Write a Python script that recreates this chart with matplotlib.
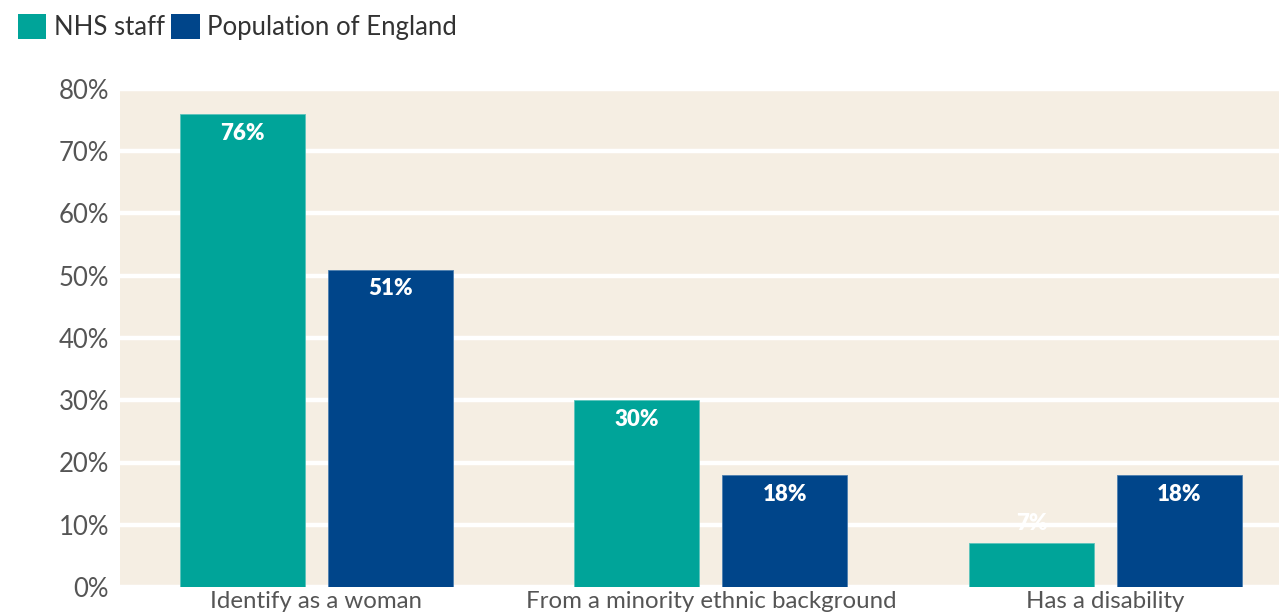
import matplotlib
matplotlib.use('agg')
import matplotlib.pyplot as plt
from matplotlib.patches import Patch
from matplotlib.ticker import FuncFormatter
import numpy as np

# Data
categories = ["Identify as a woman", "From a minority ethnic background", "Has a disability"]
nhs_staff = [76, 30, 7]
population = [51, 18, 18]
series_names = ["NHS staff", "Population of England"]

teal = '#00A499'
navy = '#00458A'
bg = '#F5EEE3'
grey = '#555555'

plt.rcParams['font.family'] = ['Lato', 'DejaVu Sans']

fig = plt.figure(figsize=(12.79, 6.16), dpi=100)
ax = fig.add_axes([120/1279, 29/616, 1159/1279, 498/616])
ax.set_facecolor(bg)

x = np.arange(len(categories))
w = 0.317
off = 0.1876

bars1 = ax.bar(x - off, nhs_staff, w, color=teal, edgecolor='#5cc4bc', linewidth=0.6, zorder=3)
bars2 = ax.bar(x + off, population, w, color=navy, edgecolor='#4d7fb0', linewidth=0.6, zorder=3)

# value labels: inside the top of the bar, above it when the bar is short
for bars in (bars1, bars2):
    for b in bars:
        v = b.get_height()
        dy = -14 if v > 10 else 14
        ax.annotate(f"{v:.0f}%", (b.get_x() + b.get_width()/2, v),
                    xytext=(0, dy), textcoords='offset points',
                    ha='center', va='center', color='white',
                    fontsize=16, fontweight='heavy', zorder=4)

ax.set_xlim(-0.498, -0.498 + 1159/394.5)
ax.set_ylim(0, 80)
ax.set_yticks(range(0, 81, 10))
ax.yaxis.set_major_formatter(FuncFormatter(lambda v, p: f"{v:.0f}%"))
ax.grid(axis='y', color='white', linewidth=3.2, zorder=1)
ax.set_axisbelow(True)

ax.set_xticks(x)
ax.set_xticklabels(categories)
ax.tick_params(axis='both', length=0, labelcolor=grey)
ax.tick_params(axis='x', pad=3, labelsize=17.3)
ax.tick_params(axis='y', pad=8, labelsize=18.5)
for s in ax.spines.values():
    s.set_visible(False)

handles = [Patch(facecolor=teal), Patch(facecolor=navy)]
fig.legend(handles, series_names, loc='upper left', bbox_to_anchor=(0.006, 0.994),
           ncol=2, frameon=False, fontsize=18.5, labelcolor='#333333',
           handlelength=1.1, handleheight=1.1, handletextpad=0.3,
           columnspacing=0.25, borderaxespad=0)

fig.savefig('out.png', dpi=100, facecolor='white')
